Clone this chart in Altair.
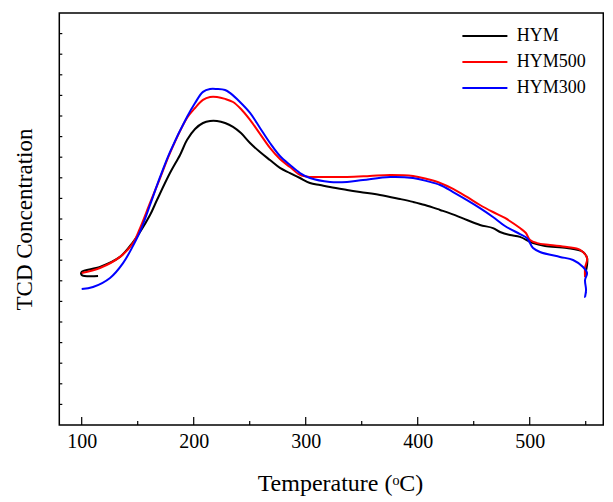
import altair as alt
import pandas as pd

series_names = ["HYM", "HYM500", "HYM300"]
series_colors = ["#000000", "#ff0000", "#0000ff"]

hym_t = [114.6, 100, 100, 116.3, 134.2, 145.8, 152.1, 161.0, 167.2, 178.8,
         187.8, 194.0, 201.2, 208.3, 214.6, 220.8, 228.0, 235.1, 242.2, 250.3,
         259.2, 268.1, 277.0, 286.0, 294.9, 303.8, 312.8, 321.7, 336.9, 348.5,
         366.3, 384.2, 395.8, 406.5, 420.0, 433.3, 444.0, 455.6, 467.2, 473.5,
         482.4, 491.3, 503.0, 513.7, 533.3, 547.6, 551.2, 551.2, 549.4]
hym_v = [7.23, 7.28, 7.43, 7.67, 8.16, 8.88, 9.37, 10.19, 10.92, 12.23,
         13.11, 13.83, 14.37, 14.66, 14.76, 14.76, 14.66, 14.47, 14.17, 13.69,
         13.25, 12.86, 12.48, 12.23, 11.99, 11.75, 11.65, 11.55, 11.41, 11.31,
         11.17, 10.97, 10.83, 10.68, 10.44, 10.19, 9.95, 9.71, 9.56, 9.37,
         9.22, 9.13, 8.83, 8.69, 8.59, 8.40, 8.11, 7.77, 7.28]

hym500_t = [100, 116.3, 134.2, 145.8, 152.1, 161.0, 170.0, 178.8, 194.0, 201.2,
            208.3, 214.6, 220.8, 228.0, 235.1, 242.2, 250.3, 259.2, 268.1, 277.0,
            286.0, 294.9, 303.8, 312.8, 336.9, 357.2, 375.3, 395.8, 408.3, 420.0,
            431.6, 444.0, 455.6, 467.2, 477.9, 491.3, 496.6, 500.3, 506.5, 518.1,
            533.3, 545.0, 551.2, 549.4, 549.4]
hym500_v = [7.38, 7.62, 8.16, 8.83, 9.56, 10.78, 11.99, 13.20, 14.90, 15.39,
            15.78, 15.92, 15.92, 15.83, 15.68, 15.34, 14.81, 14.13, 13.45, 12.91,
            12.52, 12.14, 12.04, 12.04, 12.04, 12.09, 12.14, 12.09, 11.94, 11.75,
            11.46, 11.07, 10.68, 10.34, 10.05, 9.56, 9.32, 8.98, 8.83, 8.74,
            8.64, 8.50, 8.11, 7.62, 7.18]

hym300_t = [100, 110.1, 125.3, 136.9, 147.6, 153.8, 161.0, 170.0, 178.8, 194.0,
            201.2, 208.3, 214.6, 220.8, 228.0, 232.4, 241.3, 250.3, 259.2, 268.1,
            277.0, 286.0, 294.9, 303.8, 321.7, 336.9, 351.2, 375.3, 395.8, 408.3,
            420.0, 431.6, 444.0, 455.6, 467.2, 477.9, 491.3, 497.5, 503.0, 509.2,
            527.0, 538.7, 547.6, 551.2, 549.4, 550.3, 549.4, 550.3]
hym300_v = [6.60, 6.70, 7.14, 7.86, 8.88, 9.61, 10.68, 12.04, 13.25, 14.95,
            15.63, 16.17, 16.31, 16.31, 16.26, 16.12, 15.68, 15.15, 14.42, 13.69,
            13.06, 12.62, 12.23, 11.99, 11.80, 11.80, 11.89, 12.04, 11.99, 11.84,
            11.65, 11.31, 10.92, 10.53, 10.10, 9.66, 9.27, 9.08, 8.59, 8.40,
            8.16, 8.01, 7.67, 7.38, 7.04, 6.55, 6.21, 6.46]

major_ticks = [100, 200, 300, 400, 500]
minor_ticks = [150, 250, 350, 450, 550]
y_ticks = [1, 2, 3, 4, 5, 6, 7, 8, 9, 10, 11, 12, 13, 14, 15, 16, 17, 18, 19]

rows = []
for name, ts, vs in [("HYM", hym_t, hym_v), ("HYM500", hym500_t, hym500_v),
                     ("HYM300", hym300_t, hym300_v)]:
    for i, (t, v) in enumerate(zip(ts, vs)):
        rows.append({"series": name, "T": t, "V": v, "i": i})
df = pd.DataFrame(rows)

FONT = "Liberation Serif"
W, H = 544, 412

xscale = alt.Scale(domain=[80, 565.7], nice=False, zero=False)
yscale = alt.Scale(domain=[0, 20], nice=False, zero=False)

x_axis = alt.Axis(values=major_ticks, format="d", ticks=False, domain=False,
                  grid=False, labelFont=FONT, labelFontSize=20,
                  labelColor="black", labelPadding=7,
                  title="Temperature (ᵒC)", titleFont=FONT,
                  titleFontSize=24, titleFontWeight="normal",
                  titleColor="black", titlePadding=20, titleX=280.7)
y_axis = alt.Axis(labels=False, ticks=False, domain=False, grid=False,
                  title="TCD Concentration", titleFont=FONT,
                  titleFontSize=23, titleFontWeight="normal",
                  titleColor="black", titlePadding=23)

x_enc = alt.X("T:Q", scale=xscale, axis=x_axis)
y_enc = alt.Y("V:Q", scale=yscale, axis=y_axis)

lines = alt.Chart(df).mark_line(strokeWidth=2, interpolate="catmull-rom").encode(
    x=x_enc,
    y=y_enc,
    color=alt.Color("series:N",
                    scale=alt.Scale(domain=series_names, range=series_colors),
                    legend=alt.Legend(title=None, orient="none", legendX=416.6,
                                      legendY=14, symbolType="M-4,0H4",
                                      symbolSize=126.5625, symbolStrokeWidth=2,
                                      labelFont=FONT, labelFontSize=18,
                                      labelColor="black", labelOffset=22.9,
                                      rowPadding=8, padding=0)),
    order=alt.Order("i:Q"),
)

major_df = pd.DataFrame({"T": major_ticks})
minor_df = pd.DataFrame({"T": minor_ticks})
ytick_df = pd.DataFrame({"V": y_ticks})

xt_major = alt.Chart(major_df).mark_rule(color="black", strokeWidth=1.2).encode(
    x=x_enc, y=alt.value(H), y2=alt.value(H - 8))
xt_minor = alt.Chart(minor_df).mark_rule(color="black", strokeWidth=1.2).encode(
    x=x_enc, y=alt.value(H), y2=alt.value(H - 4))
yt = alt.Chart(ytick_df).mark_rule(color="black", strokeWidth=1.2).encode(
    y=y_enc, x=alt.value(0), x2=alt.value(3))

chart = alt.layer(lines, xt_major, xt_minor, yt).properties(
    width=W, height=H,
    autosize=alt.AutoSizeParams(type="none"),
    padding={"left": 51.3, "top": 5, "right": 1, "bottom": 73},
).configure(font=FONT).configure_view(stroke="black", strokeWidth=1.5)

chart.save("out.html", embed_options={"renderer": "svg", "actions": False})
